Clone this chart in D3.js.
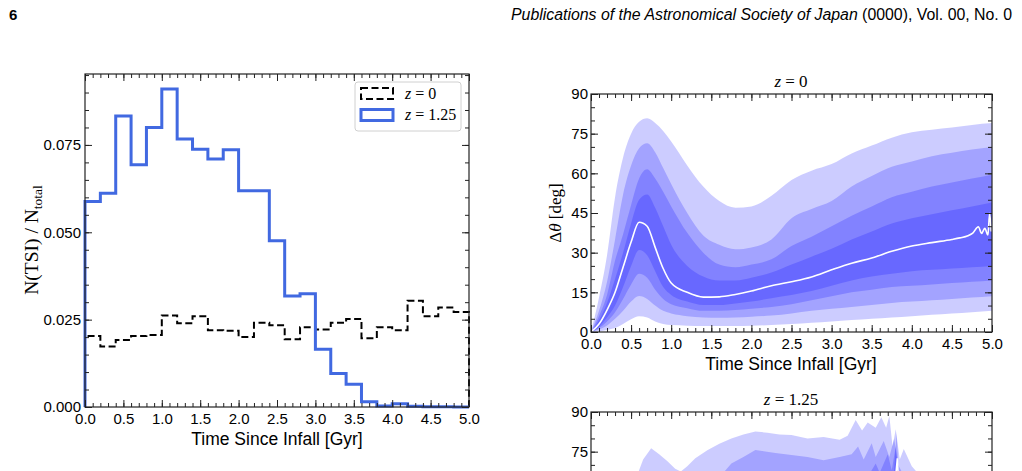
<!DOCTYPE html>
<html>
<head>
<meta charset="utf-8">
<script src="https://cdn.jsdelivr.net/npm/d3@7"></script>
<style>
  body { margin: 0; background: #fff; }
</style>
</head>
<body>
<svg id="fig" width="1022" height="471" font-family="'Liberation Sans', Arial, sans-serif"></svg>
<script>
// ---------- data ----------
// left: fraction of satellites per time-since-infall bin
var binEdges = [0.0, 0.2, 0.4, 0.6, 0.8, 1.0, 1.2, 1.4, 1.6, 1.8, 2.0, 2.2, 2.4,
                2.6, 2.8, 3.0, 3.2, 3.4, 3.6, 3.8, 4.0, 4.2, 4.4, 4.6, 4.8, 5.0];
var fracZ0   = [0.0203, 0.0173, 0.0192, 0.0203, 0.0206, 0.0262, 0.0240, 0.0260, 0.0220, 0.0218,
                0.0200, 0.0241, 0.0234, 0.0194, 0.0228, 0.0222, 0.0241, 0.0252, 0.0197, 0.0228,
                0.0220, 0.0304, 0.0260, 0.0285, 0.0272];
var fracZ125 = [0.0588, 0.0612, 0.0833, 0.0693, 0.0800, 0.0910, 0.0767, 0.0738, 0.0710, 0.0736,
                0.0619, 0.0619, 0.0476, 0.0318, 0.0324, 0.0165, 0.0096, 0.0065, 0.0015, 0.0003,
                0.0009, 0.0002, 0.0001, 0.0001, 0.0000];
var legendLabels = ["0", "1.25"];

// right top (z=0): percentile bands of delta theta vs time
var timeGrid = [0, 0.1, 0.2, 0.3, 0.4, 0.5, 0.6, 0.7, 0.8, 0.9, 1.0, 1.2, 1.4, 1.6, 1.8, 2.0,
                2.25, 2.5, 2.75, 3.0, 3.25, 3.5, 3.75, 4.0, 4.25, 4.5, 4.75, 5.0];
var p975 = [0, 13, 29, 51, 66, 75, 79.5, 80.8, 79, 76, 72, 63, 55, 49.5, 47, 47.5,
            51.5, 57.5, 61, 63.5, 67.5, 70.5, 73.5, 75.5, 76.5, 77.3, 78.3, 79];
var p90  = [0, 8, 19, 35, 52, 63, 69.5, 71.4, 68, 62, 56, 45, 36.5, 33, 31.3, 32,
            35, 43, 46.5, 49.5, 55, 59, 62.5, 64.5, 66.5, 67.8, 69, 70];
var p84  = [0, 6, 14, 27, 37, 48, 58, 61.5, 58, 53, 47.5, 37.5, 30, 25.5, 24.5, 25.5,
            27.5, 32.5, 36, 40, 44, 47.5, 51, 53, 55, 56.5, 58, 59.5];
var p75  = [0, 4.5, 11, 20, 30, 41, 50, 52, 47, 40, 33, 25, 21, 19.5, 19.5, 20.5,
            22.5, 25.5, 28.5, 31.5, 35, 38, 41, 43, 44.5, 46, 47.5, 49];
var p25  = [0, 2, 5.5, 10, 17, 25, 31, 29, 23, 17, 14, 11.5, 10.2, 10.2, 10.8, 11.5,
            12.8, 14, 15.5, 17.5, 19.5, 21, 22, 23, 23.5, 24, 24.5, 25];
var p16  = [0, 1.5, 4, 7.5, 12.5, 18, 22, 20.5, 16, 12.5, 10.5, 9, 8, 8, 8.3, 8.8,
            9.5, 10.5, 12, 13.5, 15, 16, 17, 17.5, 18, 18.5, 19, 19.5];
var p10  = [0, 1, 2.5, 5, 8, 11.5, 13.6, 12.5, 10, 8, 7, 6, 5.5, 5.4, 5.5, 5.8,
            6.2, 7, 8, 8.8, 9.5, 10.2, 11, 11.5, 12, 12.5, 13, 13.5];
var p025 = [0, 0.3, 0.8, 1.5, 3, 4.8, 6, 5.5, 4, 3, 2.6, 2.4, 2.3, 2.3, 2.3, 2.4,
            2.6, 3, 3.5, 4, 4.5, 5, 5.5, 6, 6.5, 7, 7.5, 8];
var medT = [0, 0.1, 0.2, 0.3, 0.4, 0.5, 0.6, 0.7, 0.8, 0.9, 1.0, 1.2, 1.4, 1.6, 1.8, 2.0,
            2.25, 2.5, 2.75, 3.0, 3.25, 3.5, 3.75, 4.0, 4.25, 4.5, 4.6, 4.7, 4.76, 4.83,
            4.87, 4.91, 4.95, 4.97, 4.99];
var medV = [0, 3, 8.3, 15, 24.5, 34, 41.5, 40, 32, 24, 18.5, 15, 13.2, 13.3, 14.2, 15.5,
            17.5, 19, 20.8, 23.5, 26, 28, 30.5, 32.5, 33.8, 35, 35.6, 36.4, 37.4, 39.8,
            37.3, 39.2, 36.7, 44.9, 38];

// right bottom (z=1.25): only the top of the panel is in view
var hiOuterT = [0.4, 0.55, 0.65, 0.75, 0.85, 0.95, 1.05, 1.12, 1.2, 1.3, 1.45, 1.6, 1.75, 1.9,
                2.05, 2.2, 2.35, 2.5, 2.7, 2.9, 3.1, 3.2, 3.3, 3.38, 3.45, 3.55, 3.62, 3.68,
                3.72, 3.76, 3.8, 3.85, 3.9, 4.0, 4.1, 4.3];
var hiOuterV = [50, 64, 72, 76.3, 74, 71.5, 68.5, 67.5, 69.5, 72.5, 75.5, 78, 80, 81.5,
                82.6, 82.2, 81.5, 81.3, 80, 80.5, 79.5, 81, 87, 83, 86, 84, 88, 84,
                88.5, 77, 83.5, 72, 76, 69.5, 66, 58];
var hi2T = [1.5, 1.65, 1.75, 1.9, 2.05, 2.3, 2.5, 2.7, 2.9, 3.1, 3.25, 3.33, 3.4, 3.5, 3.55,
            3.65, 3.72, 3.78, 3.83, 3.9, 4.0];
var hi2V = [58, 67, 70.5, 73, 75.6, 74.5, 73.7, 73, 71.8, 73, 74, 77, 72, 78.2, 73,
            79, 73, 80, 70, 66, 60];
var hi3T = [3.4, 3.5, 3.55, 3.6, 3.7, 3.75, 3.8, 3.83, 3.9];
var hi3V = [62, 68, 70.5, 67, 74, 68, 77, 66, 60];
var hi4T = [3.7, 3.78, 3.81, 3.84, 3.9];
var hi4V = [60, 68, 82, 66, 58];
var hiMedT = [3.75, 3.8, 3.82, 3.84, 3.9];
var hiMedV = [55, 66, 72.5, 60, 52];

// ---------- helpers ----------
var W = 1022, H = 471;
var svg = d3.select("#fig");
var ink = "#222";
var serif = "'Liberation Serif', 'Times New Roman', serif";
var sans = "'Liberation Sans', Arial, sans-serif";

function styleTicks(sel, size) {
  sel.attr("font-family", sans).attr("font-size", size);
  sel.selectAll("text").attr("fill", "#000");
  sel.select(".domain").remove();
}

// inward ticks on all four sides, labels left and bottom
function drawAxes(g, x, y, c) {
  var xr = x.range(), yr = y.range();
  var b = g.append("g").attr("color", ink);
  b.append("g").attr("transform", "translate(0," + yr[0] + ")")
    .call(d3.axisBottom(x).tickValues(c.xMinor).tickSize(-4).tickFormat("")).call(styleTicks, 15);
  b.append("g").attr("transform", "translate(0," + yr[0] + ")")
    .call(d3.axisBottom(x).tickValues(c.xMajor).tickSize(-7).tickPadding(6).tickFormat(c.xFmt)).call(styleTicks, 15);
  b.append("g").attr("transform", "translate(0," + yr[1] + ")")
    .call(d3.axisTop(x).tickValues(c.xMinor).tickSize(-4).tickFormat("")).call(styleTicks, 15);
  b.append("g").attr("transform", "translate(0," + yr[1] + ")")
    .call(d3.axisTop(x).tickValues(c.xMajor).tickSize(-7).tickFormat("")).call(styleTicks, 15);
  b.append("g").attr("transform", "translate(" + xr[0] + ",0)")
    .call(d3.axisLeft(y).tickValues(c.yMinor).tickSize(-4).tickFormat("")).call(styleTicks, 15);
  b.append("g").attr("transform", "translate(" + xr[0] + ",0)")
    .call(d3.axisLeft(y).tickValues(c.yMajor).tickSize(-7).tickPadding(c.yPad).tickFormat(c.yFmt)).call(styleTicks, 15);
  b.append("g").attr("transform", "translate(" + xr[1] + ",0)")
    .call(d3.axisRight(y).tickValues(c.yMinor).tickSize(-4).tickFormat("")).call(styleTicks, 15);
  b.append("g").attr("transform", "translate(" + xr[1] + ",0)")
    .call(d3.axisRight(y).tickValues(c.yMajor).tickSize(-7).tickFormat("")).call(styleTicks, 15);
  b.append("rect")
    .attr("x", xr[0]).attr("y", yr[1])
    .attr("width", xr[1] - xr[0]).attr("height", yr[0] - yr[1])
    .attr("fill", "none").attr("stroke", ink).attr("stroke-width", 1.2);
  // drop empty labels
  b.selectAll(".tick text").filter(function() { return this.textContent === ""; }).remove();
}

// ---------- header ----------
svg.append("text").attr("x", 9).attr("y", 20)
  .attr("font-size", 15).attr("font-weight", "bold").text("6");
var hdr = svg.append("text").attr("x", 1012).attr("y", 20)
  .attr("text-anchor", "end").attr("font-size", 16)
  .attr("textLength", 501).attr("lengthAdjust", "spacingAndGlyphs");
hdr.append("tspan").attr("font-style", "italic").text("Publications of the Astronomical Society of Japan");
hdr.append("tspan").text(" (0000), Vol. 00, No. 0");

// ---------- left panel: histogram ----------
var hx = d3.scaleLinear().domain([0, 5]).range([85, 469]);
var hy = d3.scaleLinear().domain([0, 0.0953]).range([407, 74]);

function stepPoints(vals) {
  var pts = [[binEdges[0], 0]];
  vals.forEach(function(v, i) {
    pts.push([binEdges[i], v]);
    pts.push([binEdges[i + 1], v]);
  });
  pts.push([binEdges[binEdges.length - 1], 0]);
  return pts;
}
var stepLine = d3.line()
  .x(function(d) { return hx(d[0]); })
  .y(function(d) { return hy(d[1]); });

var leftPanel = svg.append("g");
leftPanel.append("path").attr("d", stepLine(stepPoints(fracZ0)))
  .attr("fill", "none").attr("stroke", "#000").attr("stroke-width", 2)
  .attr("stroke-dasharray", "7,3.5");
leftPanel.append("path").attr("d", stepLine(stepPoints(fracZ125)))
  .attr("fill", "none").attr("stroke", "#4169e1").attr("stroke-width", 3);

drawAxes(leftPanel, hx, hy, {
  xMajor: d3.range(0, 5.01, 0.5), xMinor: d3.range(0, 5.01, 0.1), xFmt: d3.format(".1f"),
  yMajor: [0, 0.025, 0.05, 0.075], yMinor: d3.range(0, 0.0951, 0.005), yFmt: d3.format(".3f"),
  yPad: 4
});

leftPanel.append("text").attr("x", 277).attr("y", 445).attr("text-anchor", "middle")
  .attr("font-size", 17.5).text("Time Since Infall [Gyr]");
var yl = leftPanel.append("text").attr("transform", "translate(38,240) rotate(-90)")
  .attr("text-anchor", "middle")
  .attr("font-family", serif).attr("font-size", 19.5);
yl.append("tspan").text("N(TSI) / N");
yl.append("tspan").attr("font-size", 13.5).attr("dy", 4).text("total");

// legend
var lg = leftPanel.append("g");
lg.append("rect").attr("x", 355).attr("y", 82).attr("width", 106).attr("height", 49)
  .attr("rx", 3).attr("fill", "#fff").attr("fill-opacity", 0.8)
  .attr("stroke", "#d0d0d0").attr("stroke-width", 1);
var lgStyles = [
  {stroke: "#000", w: 2, dash: "7,3.5"},
  {stroke: "#4169e1", w: 3, dash: null}
];
legendLabels.forEach(function(lab, i) {
  var yy = 88 + i * 21.5;
  lg.append("rect").attr("x", 361).attr("y", yy).attr("width", 32).attr("height", 11)
    .attr("fill", "none").attr("stroke", lgStyles[i].stroke)
    .attr("stroke-width", lgStyles[i].w).attr("stroke-dasharray", lgStyles[i].dash);
  var t = lg.append("text").attr("x", 405).attr("y", yy + 10.5)
    .attr("font-family", serif).attr("font-size", 16);
  t.append("tspan").attr("font-style", "italic").text("z");
  t.append("tspan").text(" = " + lab);
});

// ---------- right top panel: z = 0 ----------
var ax = d3.scaleLinear().domain([0, 5]).range([591, 992]);
var ay = d3.scaleLinear().domain([0, 90]).range([332, 94]);
var bandFill = "rgba(0,0,255,0.2)";

var upper = svg.append("g");
var bands = [[p025, p975], [p10, p90], [p16, p84], [p25, p75]];
bands.forEach(function(pair) {
  var area = d3.area()
    .x(function(d, i) { return ax(timeGrid[i]); })
    .y0(function(d, i) { return ay(pair[0][i]); })
    .y1(function(d, i) { return ay(pair[1][i]); })
    .curve(d3.curveMonotoneX);
  upper.append("path").attr("d", area(timeGrid)).attr("fill", bandFill);
});
upper.append("path")
  .attr("d", d3.line()
    .x(function(d, i) { return ax(medT[i]); })
    .y(function(d) { return ay(d); })
    .curve(d3.curveMonotoneX)(medV))
  .attr("fill", "none").attr("stroke", "#fff").attr("stroke-width", 1.6);

function angCfg(yScale) {
  var visible = function(v) { return yScale(v) < H - 4; };
  return {
    xMajor: d3.range(0, 5.01, 0.5), xMinor: d3.range(0, 5.01, 0.1),
    xFmt: function(d) { return visible(0) ? d3.format(".1f")(d) : ""; },
    yMajor: d3.range(0, 91, 15), yMinor: d3.range(0, 91, 5),
    yFmt: function(d) { return visible(d) ? d3.format("d")(d) : ""; },
    yPad: 3
  };
}
drawAxes(upper, ax, ay, angCfg(ay));

function serifTitle(g, x, y, lab) {
  var t = g.append("text").attr("x", x).attr("y", y).attr("text-anchor", "middle")
    .attr("font-family", serif).attr("font-size", 17);
  t.append("tspan").attr("font-style", "italic").text("z");
  t.append("tspan").text(" = " + lab);
}
serifTitle(upper, 791, 87, legendLabels[0]);
upper.append("text").attr("x", 791).attr("y", 370).attr("text-anchor", "middle")
  .attr("font-size", 17.5).text("Time Since Infall [Gyr]");
var dl = upper.append("text").attr("transform", "translate(561,213) rotate(-90)")
  .attr("text-anchor", "middle")
  .attr("font-family", serif).attr("font-size", 17);
dl.append("tspan").text("\u0394");
dl.append("tspan").attr("font-style", "italic").text("\u03b8");
dl.append("tspan").text(" [deg]");

// ---------- right bottom panel: z = 1.25 (cut off by the page) ----------
var by = d3.scaleLinear().domain([0, 90]).range([650, 412]);
var bot = svg.append("g");
bot.append("clipPath").attr("id", "botclip").append("rect")
  .attr("x", 591).attr("y", 412).attr("width", 401).attr("height", 238);
var botBands = bot.append("g").attr("clip-path", "url(#botclip)");
[[hiOuterT, hiOuterV], [hi2T, hi2V], [hi3T, hi3V], [hi4T, hi4V]].forEach(function(s) {
  var area = d3.area()
    .x(function(d, i) { return ax(s[0][i]); })
    .y0(by(0))
    .y1(function(d) { return by(d); })
    .curve(d3.curveLinear);
  botBands.append("path").attr("d", area(s[1])).attr("fill", bandFill);
});
botBands.append("path")
  .attr("d", d3.line()
    .x(function(d, i) { return ax(hiMedT[i]); })
    .y(function(d) { return by(d); })(hiMedV))
  .attr("fill", "none").attr("stroke", "#fff").attr("stroke-width", 1.6);
drawAxes(bot, ax, by, angCfg(by));
serifTitle(bot, 791, 405, legendLabels[1]);
</script>
</body>
</html>
